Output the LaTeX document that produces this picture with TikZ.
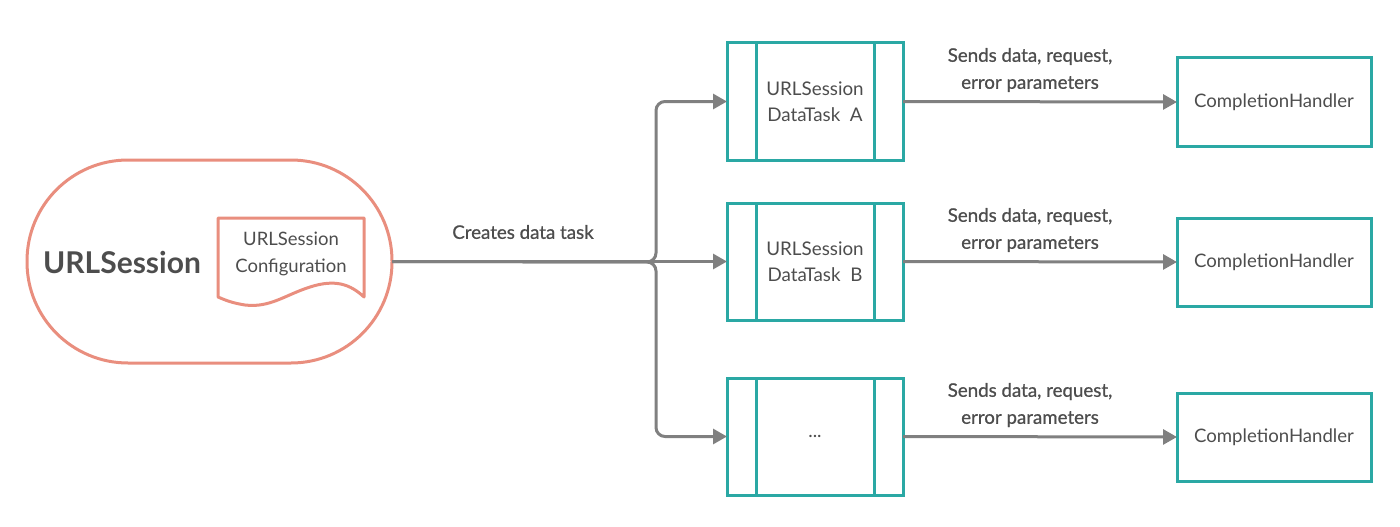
\documentclass[tikz,border=0pt]{standalone}
\usepackage{fontspec}
\setmainfont{Lato}
\usetikzlibrary{arrows.meta}
\definecolor{salmonc}{RGB}{233,142,126}
\definecolor{tealc}{RGB}{42,168,164}
\definecolor{arrowgray}{RGB}{128,128,128}
\definecolor{txtc}{RGB}{77,77,77}
\tikzset{
  sessionbox/.style={draw=salmonc, line width=3pt, rounded corners=101pt, minimum width=365pt, minimum height=203pt, inner sep=0pt, outer sep=0pt},
  taskbox/.style={draw=tealc, line width=3pt, minimum width=176pt, minimum height=117pt, inner sep=0pt, outer sep=0pt, text=txtc, font=\fontsize{18.8}{26}\selectfont, align=center},
  handlerbox/.style={draw=tealc, line width=3pt, minimum width=194pt, minimum height=88pt, inner sep=0pt, outer sep=0pt, text=txtc, font=\fontsize{18.6}{20}\selectfont},
  conn/.style={draw=arrowgray, line width=3pt, -{Triangle[length=14pt,width=15pt]}},
  lbl/.style={text=txtc, font=\fontsize{18.7}{27}\selectfont\addfontfeature{FakeBold=0.8}, align=center, inner sep=0pt},
  plain/.style={text=txtc, inner sep=0pt, align=center}
}
\begin{document}
\begin{tikzpicture}[x=1pt,y=-1pt]
\useasboundingbox (0,0) rectangle (1400,527);
% session
\node[sessionbox] (session) at (209.5,261.5) {};
\node[plain, font=\fontsize{30}{32}\selectfont\bfseries] (sessionlbl) at (122,262) {URLSession};
\draw[salmonc, line width=3pt, line join=round] (218,218) -- (364,218) -- (364,297)
  .. controls (350,284) and (335,279) .. (310,287)
  .. controls (285,295) and (270,308) .. (245,305)
  .. controls (232,303) and (225,300) .. (218,297) -- cycle;
\node[plain, font=\fontsize{18.5}{27}\selectfont] (conf) at (291,254) {URLSession\\Configuration};
% tasks
\foreach \n/\y/\t in {A/101.5/{URLSession\\DataTask\ \ A}, B/261.5/{URLSession\\DataTask\ \ B}, C/436.5/{...}} {
  \node[taskbox] (task\n) at (815,\y) {\t};
  \draw[tealc, line width=3pt] ([xshift=29pt]task\n.north west) -- ([xshift=29pt]task\n.south west);
  \draw[tealc, line width=3pt] ([xshift=-29pt]task\n.north east) -- ([xshift=-29pt]task\n.south east);
}
% handlers
\node[handlerbox] (hA) at (1274,102) {CompletionHandler};
\node[handlerbox] (hB) at (1274,262) {CompletionHandler};
\node[handlerbox] (hC) at (1274,437) {CompletionHandler};
% connectors
\coordinate (split) at (656,262);
\draw[conn] (session.east) -- (taskB.west);
\draw[conn, rounded corners=9pt] (session.east) -- (split) |- (taskA.west);
\draw[conn, rounded corners=9pt] (session.east) -- (split) |- (taskC.west);
\node[lbl] (creates) at (523,232) {Creates data task};
\draw[conn] (taskA.east) -- (hA.west);
\draw[conn] (taskB.east) -- (hB.west);
\draw[conn] (taskC.east) -- (hC.west);
\node[lbl] (sA) at (1030,70) {Sends data, request,\\error parameters};
\node[lbl] (sB) at (1030,230) {Sends data, request,\\error parameters};
\node[lbl] (sC) at (1030,405) {Sends data, request,\\error parameters};
\end{tikzpicture}
\end{document}
